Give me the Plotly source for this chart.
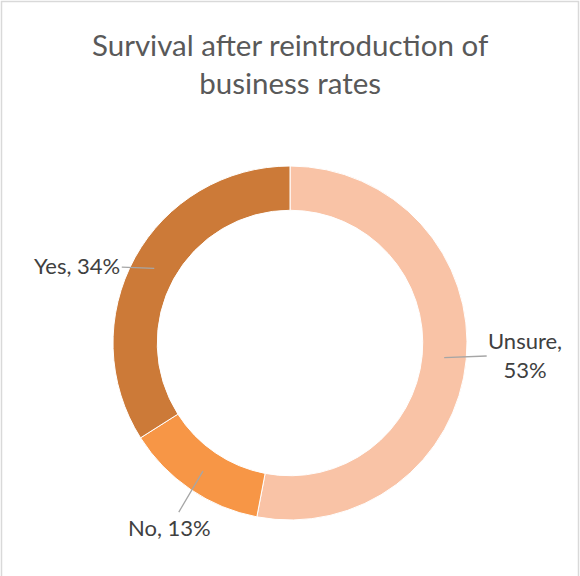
import math
import plotly.graph_objects as go

categories = ["Unsure", "No", "Yes"]
values = [53, 13, 34]
colors = ["#F9C3A6", "#F79646", "#CC7A38"]
label_texts = ["Unsure,<br>53%", "No, 13%", "Yes, 34%"]
title_text = "Survival after reintroduction of<br>business rates"

W, H = 580, 576
cx, cy, R = 290, 343, 177
hole = 0.75

fig = go.Figure(go.Pie(
    labels=categories, values=values, sort=False, direction="clockwise",
    rotation=0, hole=hole, textinfo="none", hoverinfo="label+percent",
    marker=dict(colors=colors, line=dict(color="white", width=1)),
    domain=dict(x=[(cx - R) / W, (cx + R) / W],
                y=[(H - cy - R) / H, (H - cy + R) / H]),
    showlegend=False,
))

# label offsets (px) from the leader-line start on the ring
offsets = [(81, -3), (-33, 56), (-77, -3)]
total = sum(values)
cum = 0
r_mid = R * (1 + hole) / 2
for cat, v, txt, (ax, ay) in zip(categories, values, label_texts, offsets):
    mid = (cum + v / 2) / total * 2 * math.pi
    cum += v
    px = cx + r_mid * math.sin(mid)
    py = cy - r_mid * math.cos(mid)
    fig.add_annotation(
        x=px / W, y=1 - py / H, xref="paper", yref="paper",
        ax=ax, ay=ay, showarrow=True, arrowhead=0, arrowwidth=1.3,
        arrowcolor="#A6A6A6", standoff=0, startstandoff=0,
        text=txt,
        font=dict(family="Lato, 'Open Sans', sans-serif", size=22, color="#404040"),
        align="center",
    )

fig.add_annotation(
    x=0.5, y=1 - 63 / H, xref="paper", yref="paper", showarrow=False,
    xanchor="center", yanchor="middle",
    text=title_text, align="center",
    font=dict(family="Lato, 'Open Sans', sans-serif", size=29.5, color="#595959"),
)

fig.add_shape(type="rect", xref="paper", yref="paper",
              x0=1.5 / W, x1=1 - 1.5 / W, y0=-0.01, y1=1 - 1.5 / H,
              line=dict(color="#D9D9D9", width=1.5), fillcolor="rgba(0,0,0,0)")

fig.update_layout(
    width=W, height=H, margin=dict(l=0, r=0, t=0, b=0),
    paper_bgcolor="white", plot_bgcolor="white",
)
fig.write_html("out.html", config={"displayModeBar": False},
               post_script="document.body.style.margin='0';document.body.style.overflow='hidden';")
